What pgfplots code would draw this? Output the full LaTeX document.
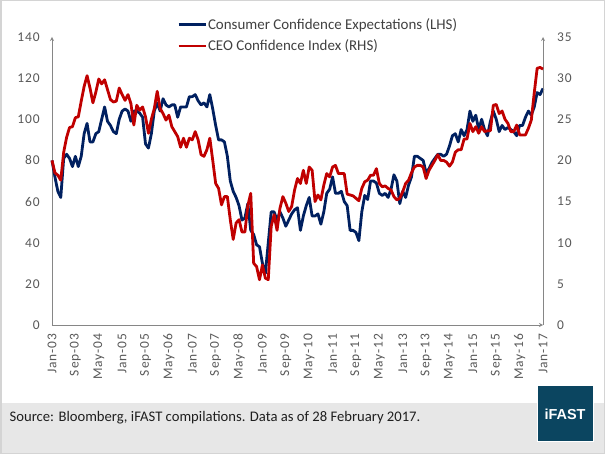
\documentclass[border=0pt]{standalone}
\usepackage{fontspec}
\setmainfont{Carlito}
\usepackage{pgfplots}
\pgfplotsset{compat=1.18}
\usepackage{pgfplotstable}
\usetikzlibrary{arrows.meta}
\newfontfamily\tickfont{Carlito}[LetterSpace=7]
\newfontfamily\logofont{Liberation Sans}
\definecolor{cblue}{HTML}{002060}
\definecolor{cred}{HTML}{C00000}
\definecolor{axgray}{HTML}{868686}
\definecolor{tickgray}{HTML}{595959}
\definecolor{legtext}{HTML}{404040}
\definecolor{bandgray}{HTML}{E7E7E7}
\definecolor{bordergray}{HTML}{D4D4D4}
\definecolor{boxcol}{HTML}{0B4560}

\pgfplotstableread{
m cce ceo
0 80 20.0
1 72 18.5
2 65 18.2
3 62 17.6
4 81 21.0
5 83 22.8
6 81 24.0
7 77 24.1
8 82 25.2
9 77 25.3
10 82 27.2
11 93 29.0
12 98 30.3
13 89 28.8
14 89 27.0
15 93 28.3
16 94 29.9
17 100 29.3
18 106 29.8
19 99 28.6
20 97 27.4
21 94 27.1
22 93 27.2
23 100 28.8
24 104 28.0
25 105 27.3
26 104 28.0
27 99 26.9
28 104 24.3
29 104 26.7
30 103 26.1
31 101 26.5
32 88 25.3
33 86 23.3
34 93 25.0
35 104 26.3
36 108 28.4
37 104 26.3
38 110 25.7
39 107 24.9
40 106 25.5
41 107 24.1
42 107 23.5
43 101 22.9
44 106 21.6
45 106 22.7
46 106 21.6
47 111 22.7
48 111 22.5
49 112 23.5
50 109 22.5
51 107 20.7
52 108 20.5
53 106 21.3
54 112 22.7
55 105 20.0
56 97 17.2
57 90 16.6
58 90 14.6
59 89 15.6
60 82 15.6
61 70 12.8
62 65 10.4
63 62 12.4
64 58 12.8
65 51 11.3
66 52 11.3
67 59 14.5
68 46 16.0
69 44 7.5
70 39 7.1
71 38 5.5
72 30 7.3
73 25 5.7
74 40 5.5
75 55 12.0
76 55 13.4
77 51 11.5
78 55 14.2
79 52 15.6
80 48 14.8
81 51 13.8
82 54 14.4
83 56 16.4
84 57 17.8
85 46 17.2
86 53 18.8
87 58 17.2
88 62 19.2
89 53 18.8
90 53 15.0
91 54 15.8
92 49 15.2
93 55 17.0
94 64 18.4
95 66 18.0
96 72 19.2
97 64 19.4
98 64 18.4
99 65 18.4
100 60 18.4
101 58 15.9
102 46 15.8
103 46 15.7
104 45 15.4
105 41 15.1
106 55 16.6
107 63 17.4
108 61 17.6
109 70 18.2
110 70 18.2
111 69 19.0
112 64 17.2
113 63 16.8
114 64 16.9
115 62 16.6
116 66 16.4
117 73 15.6
118 70 15.2
119 59 15.4
120 65 16.2
121 62 17.2
122 68 17.6
123 72 18.5
124 82 19.2
125 82 19.4
126 81 19.4
127 80 19.2
128 74 17.8
129 76 18.8
130 79 19.4
131 81 20.0
132 83 20.7
133 83 20.0
134 82 20.0
135 83 19.8
136 87 19.3
137 92 19.8
138 93 21.0
139 89 21.3
140 95 21.3
141 92 22.6
142 95 22.6
143 104 24.5
144 99 23.5
145 102 24.1
146 95 23.3
147 100 24.1
148 95 23.5
149 92 23.6
150 99 23.6
151 104 26.7
152 100 26.8
153 94 25.7
154 97 26.0
155 95 25.0
156 96 24.5
157 95 23.5
158 94 23.5
159 92 24.3
160 97 23.1
161 97 23.1
162 101 23.1
163 104 23.9
164 102 24.9
165 106 28.2
166 113 31.2
167 112 31.3
168 115 31.1
}\data

\pgfplotsset{
  common/.style={
    at={(52bp,129bp)}, anchor=south west, scale only axis,
    width=491bp, height=288bp,
    xmin=0, xmax=168, clip=false,
    major tick length=0pt,
    axis line style={draw=axgray, line width=0.8pt, -{Triangle[length=5bp,width=5bp]}},
    ticklabel style={font=\fontsize{13.5}{15}\tickfont, text=tickgray, inner sep=1bp},
    /pgf/number format/assume math mode=true,
  }
}

\begin{document}
\begin{tikzpicture}
\useasboundingbox (0,0) rectangle (605bp,454bp);
\fill[white] (0,0) rectangle (605bp,454bp);
\fill[bandgray] (0,0) rectangle (605bp,51bp);
\draw[bordergray, line width=1.5bp] (0.75bp,0.75bp) rectangle (604.25bp,453.25bp);
\fill[boxcol] (537bp,12bp) rectangle (593bp,68bp);
\draw[white, line width=1bp] (537bp,12bp) rectangle (593bp,68bp);
\node[text=white, font=\fontsize{14.5}{16}\logofont\bfseries] at (565bp,39.5bp) {iFAST};
\node[anchor=base west, inner sep=0, text=black!88, font=\fontsize{14.7}{16}\selectfont] at (9.5bp,32.5bp) {Source: Bloomberg, iFAST compilations. Data as of 28 February 2017.};

\begin{axis}[common,
  ymin=0, ymax=140, ytick={0,20,...,140},
  axis x line=bottom, axis y line=left,
  xtick={0,8,...,168},
  xticklabels={Jan-03,Sep-03,May-04,Jan-05,Sep-05,May-06,Jan-07,Sep-07,May-08,Jan-09,Sep-09,May-10,Jan-11,Sep-11,May-12,Jan-13,Sep-13,May-14,Jan-15,Sep-15,May-16,Jan-17},
  xticklabel style={rotate=90, anchor=east},
  xticklabel shift=7.5bp,
  yticklabel shift=11bp,
  legend style={at={(axis description cs:0.2546,1.069)}, anchor=north west,
    draw=none, fill=none, inner sep=0pt, row sep=7bp,
    font=\fontsize{15}{16}\selectfont, text=legtext,
    nodes={inner sep=1bp}},
  legend cell align=left,
  legend image code/.code={\draw[#1, line width=2.8bp] (0bp,0bp) -- (27bp,0bp);},
]
\addplot[cblue, line width=2.8bp, line join=round] table[x=m, y=cce]{\data};
\addlegendentry{Consumer Confidence Expectations (LHS)}
\addlegendimage{cred}
\addlegendentry{CEO Confidence Index (RHS)}
\end{axis}

\begin{axis}[common,
  ymin=0, ymax=35, ytick={0,5,...,35},
  axis x line=none, axis y line=right,
  yticklabel shift=13bp,
  yticklabel style={anchor=west},
]
\addplot[cred, line width=2.8bp, line join=round] table[x=m, y=ceo]{\data};
\end{axis}
\end{tikzpicture}
\end{document}
